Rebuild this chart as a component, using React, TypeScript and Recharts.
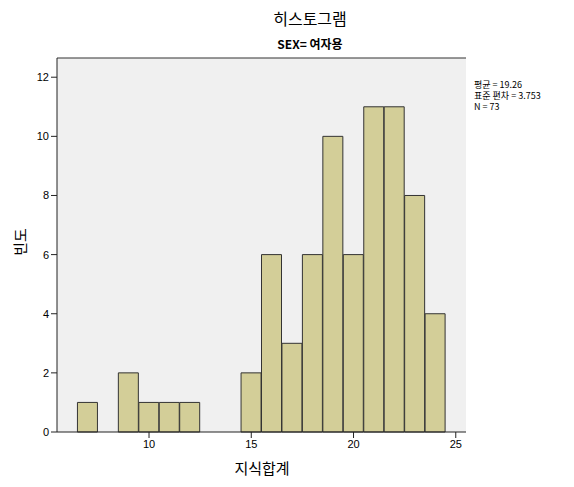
import { BarChart, Bar, XAxis, YAxis, CartesianGrid } from 'recharts';

// bins of width 1, centred on integers 6..25
const bins = [6, 7, 8, 9, 10, 11, 12, 13, 14, 15, 16, 17, 18, 19, 20, 21, 22, 23, 24, 25];
const counts = [0, 1, 0, 2, 1, 1, 1, 0, 0, 2, 6, 3, 6, 10, 6, 11, 11, 8, 4, 0];
const xTicks = [10, 15, 20, 25];
const yTicks = [0, 2, 4, 6, 8, 10, 12];
const yMax = 12.65;
const statLines = ['평균 = 19.26', '표준 편차 = 3.753', 'N = 73'];

const data = bins.map((b, i) => ({ bin: b, count: counts[i] }));

const KR = '"Noto Sans CJK KR", "Noto Sans", sans-serif';
const tickStyle = { fill: '#000', fontSize: 11, fontFamily: '"Liberation Sans", Arial, sans-serif' };

export default function App() {
  return (
    <div style={{ position: 'relative', width: 574, height: 487, background: '#fff' }}>
      <style>{'body{margin:0}'}</style>
      <BarChart
        width={574}
        height={487}
        data={data}
        barCategoryGap={0}
        barGap={0}
        margin={{ top: 57, right: 108, left: 17, bottom: 25 }}
      >
        <CartesianGrid fill="#f0f0f0" horizontal={false} vertical={false} />
        <XAxis
          dataKey="bin"
          type="category"
          ticks={xTicks}
          interval={0}
          height={30}
          tick={tickStyle}
          tickSize={6}
          tickMargin={2}
          axisLine={{ stroke: '#222' }}
          tickLine={{ stroke: '#222' }}
        />
        {/* top frame line */}
        <XAxis
          xAxisId="top"
          dataKey="bin"
          type="category"
          orientation="top"
          height={1}
          tick={false}
          tickLine={false}
          axisLine={{ stroke: '#333', strokeWidth: 1.2 }}
        />
        <YAxis
          domain={[0, yMax]}
          ticks={yTicks}
          interval={0}
          width={40}
          tick={tickStyle}
          tickSize={6}
          tickMargin={2}
          axisLine={{ stroke: '#222' }}
          tickLine={{ stroke: '#222' }}
        />
        {/* right frame line */}
        <YAxis
          yAxisId="right"
          orientation="right"
          domain={[0, yMax]}
          width={0}
          tick={false}
          tickLine={false}
          axisLine={{ stroke: '#333' }}
        />
        <Bar dataKey="count" fill="#d3ce98" stroke="#333" strokeWidth={1} isAnimationActive={false} />
      </BarChart>

      <div style={{ position: 'absolute', left: 0, width: 620, top: 6, textAlign: 'center', fontFamily: KR, fontSize: 16 }}>
        히스토그램
      </div>
      <div style={{ position: 'absolute', left: 0, width: 620, top: 35, textAlign: 'center', fontFamily: KR, fontSize: 12, fontWeight: 'bold' }}>
        SEX= 여자용
      </div>
      <div style={{ position: 'absolute', left: 474, top: 79, fontFamily: KR, fontSize: 9, lineHeight: '11px' }}>
        {statLines.map((s) => (
          <div key={s}>{s}</div>
        ))}
      </div>
      <div style={{ position: 'absolute', left: 162, width: 200, top: 457, textAlign: 'center', fontFamily: KR, fontSize: 15 }}>
        지식합계
      </div>
      <div
        style={{
          position: 'absolute', left: 19, top: 242, fontFamily: KR, fontSize: 15,
          transform: 'translate(-50%, -50%) rotate(-90deg)', whiteSpace: 'nowrap', lineHeight: 1,
        }}
      >
        빈도
      </div>
    </div>
  );
}
